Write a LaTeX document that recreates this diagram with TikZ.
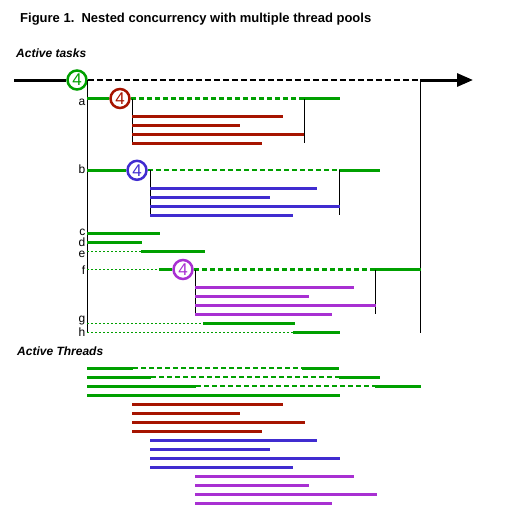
\documentclass[tikz,border=0pt]{standalone}
\usepackage{fontspec}
\setmainfont{Liberation Sans}
\usetikzlibrary{arrows.meta}
\begin{document}
\begin{tikzpicture}[x=1pt,y=-1pt,
	bar/.style={line width=3pt},
	waitline/.style={line width=2.2pt,dash pattern=on 5pt off 3pt},
	idleline/.style={line width=0.8pt,dash pattern=on 2pt off 2pt},
	pool/.style={circle,draw,line width=2.5pt,minimum size=19pt,inner sep=0pt,font=\fontsize{17}{17}\selectfont},
	rowlabel/.style={anchor=base east,inner sep=0pt,font=\fontsize{12}{12}\selectfont},
	heading/.style={anchor=base west,inner sep=0pt,font=\bfseries\itshape\fontsize{12}{14}\selectfont}]
	\definecolor{taskgreen}{RGB}{0,160,0}
	\definecolor{poolred}{RGB}{166,20,0}
	\definecolor{poolblue}{RGB}{64,44,208}
	\definecolor{poolpurple}{RGB}{168,48,210}
	\useasboundingbox (0,0) rectangle (505,517);

	%titles
	\node[anchor=base west,inner sep=0pt,font=\bfseries\fontsize{13}{15}\selectfont] (title) at (20,22) {Figure 1.\ \ Nested concurrency with multiple thread pools};
	\node[heading] (tasks) at (16,57) {Active tasks};
	\node[heading] (threads) at (17,355) {Active Threads};

	%main timeline
	\node[pool,draw=taskgreen,text=taskgreen] (p0) at (77,80) {4};
	\coordinate (join) at (420,80);
	\draw[line width=3pt] (14,80) -- (p0.west);
	\draw[line width=2.2pt,dash pattern=on 6pt off 3pt] (p0.east) -- (join);
	\draw[line width=3pt,-{Triangle[length=16pt,width=13pt]}] (join) -- (473,80);
	\draw (87,80) -- (87,333);
	\draw (join) -- (420,333);

	%task a
	\node[pool,draw=poolred,text=poolred] (pa) at (120,98.5) {4};
	\draw[bar,taskgreen] (87,98.5) -- (pa.west);
	\draw[waitline,taskgreen] (pa.east) -- (304,98.5);
	\draw[bar,taskgreen] (304,98.5) -- (340,98.5);
	\draw (132,98.5) -- (132,143.3);
	\draw (304,98.5) -- (304,143.3);
	\foreach \y/\x in {116.3/283,125.3/240,134.3/304,143.3/262}
		\draw[bar,poolred] (132,\y) -- (\x,\y);

	%task b
	\node[pool,draw=poolblue,text=poolblue] (pb) at (137,170.3) {4};
	\draw[bar,taskgreen] (87,170.3) -- (pb.west);
	\draw[waitline,taskgreen] (pb.east) -- (339,170.3);
	\draw[bar,taskgreen] (339,170.3) -- (380,170.3);
	\draw (150,170.3) -- (150,215.3);
	\draw (339,170.3) -- (339,215.3);
	\foreach \y/\x in {188.3/317,197.3/269.5,206.3/340,215.3/293.3}
		\draw[bar,poolblue] (150,\y) -- (\x,\y);

	%tasks c, d, e
	\draw[bar,taskgreen] (87,233.3) -- (160,233.3);
	\draw[bar,taskgreen] (87,242.3) -- (142,242.3);
	\draw[idleline,taskgreen] (87,251.3) -- (141,251.3);
	\draw[bar,taskgreen] (141,251.3) -- (205,251.3);

	%task f
	\node[pool,draw=poolpurple,text=poolpurple] (pf) at (183,269.5) {4};
	\draw[idleline,taskgreen] (87,269.5) -- (159,269.5);
	\draw[bar,taskgreen] (159,269.5) -- (pf.west);
	\draw[waitline,taskgreen] (pf.east) -- (375,269.5);
	\draw[bar,taskgreen] (375,269.5) -- (421,269.5);
	\draw (195,269.5) -- (195,314.3);
	\draw (375,269.5) -- (375,314.3);
	\foreach \y/\x in {287.3/354,296.3/309,305.3/376,314.3/331.5}
		\draw[bar,poolpurple] (195,\y) -- (\x,\y);

	%tasks g, h
	\draw[idleline,taskgreen] (87,323.3) -- (203,323.3);
	\draw[bar,taskgreen] (203,323.3) -- (295,323.3);
	\draw[idleline,taskgreen] (87,332.3) -- (293,332.3);
	\draw[bar,taskgreen] (293,332.3) -- (340,332.3);

	%labels
	\node[rowlabel] (la) at (85.5,105) {a};
	\node[rowlabel] (lb) at (85.5,173.3) {b};
	\node[rowlabel] (lc) at (85.5,235) {c};
	\node[rowlabel] (ld) at (85.5,246.7) {d};
	\node[rowlabel] (le) at (85.5,257.3) {e};
	\node[rowlabel] (lf) at (85.5,274) {f};
	\node[rowlabel] (lg) at (85.5,322) {g};
	\node[rowlabel] (lh) at (85.5,336.7) {h};

	%threads
	\foreach \y/\a/\b/\c in {368/133/302/339,377/151/339/380,386/196/375/421}{
		\draw[bar,taskgreen] (87,\y) -- (\a,\y);
		\draw[waitline,taskgreen] (\a,\y) -- (\b,\y);
		\draw[bar,taskgreen] (\b,\y) -- (\c,\y);
	}
	\draw[bar,taskgreen] (87,395) -- (340,395);
	\foreach \y/\x in {404.3/283,413.3/240,422.3/304.5,431.3/262}
		\draw[bar,poolred] (132,\y) -- (\x,\y);
	\foreach \y/\x in {440.3/317,449.3/269.5,458.3/340,467.3/293}
		\draw[bar,poolblue] (150,\y) -- (\x,\y);
	\foreach \y/\x in {476.3/354,485.3/309,494.3/376.5,503.3/331.5}
		\draw[bar,poolpurple] (195,\y) -- (\x,\y);
\end{tikzpicture}
\end{document}
